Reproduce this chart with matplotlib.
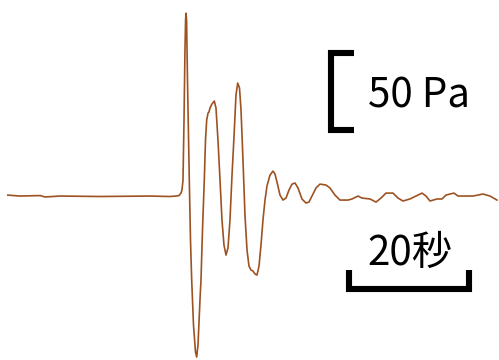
import matplotlib
matplotlib.use("Agg")
import matplotlib.pyplot as plt

# waveform: time (s) and pressure (Pa)
time_s = [-29.7, -27.7, -24.3, -23.5, -21.0, -14.3, -6.0, -2.7, -1.67, -1.17,
          -0.83, -0.67, -0.5, -0.33, -0.17, -0.07, 0.0, 0.1, 0.25, 0.55,
          0.75, 0.95, 1.25, 1.58, 1.78, 2.0, 2.33, 2.5, 2.75, 3.05,
          3.25, 3.45, 3.67, 3.83, 4.0, 4.33, 4.72, 5.0, 5.33, 5.67,
          6.0, 6.33, 6.67, 7.0, 7.33, 7.67, 8.0, 8.33, 8.62, 8.92,
          9.17, 9.5, 9.83, 10.17, 10.5, 10.83, 11.17, 11.5, 11.83, 12.17,
          12.5, 12.83, 13.17, 13.5, 14.0, 14.5, 14.83, 15.17, 15.67, 16.17,
          16.67, 17.17, 17.67, 18.17, 18.67, 19.33, 20.0, 20.5, 21.0, 21.67,
          22.33, 23.33, 24.0, 24.83, 25.67, 27.0, 27.67, 28.67, 29.33, 30.67,
          31.67, 32.5, 33.33, 34.5, 35.33, 36.17, 37.33, 38.33, 39.33, 40.0,
          40.67, 41.83, 42.67, 43.33, 44.0, 44.67, 45.33, 46.5, 47.83, 49.5,
          50.67, 51.83]
pressure_pa = [0.6, 0.0, 0.3, -0.6, 0.0, -0.3, 0.0, -0.3, 0.0, 0.3,
               1.9, 3.9, 10.3, 49.0, 94.2, 113.5, 118.0, 113.5, 74.8, 10.3,
               -28.4, -54.2, -83.2, -100.6, -103.9, -96.1, -67.1, -54.2, -21.9, 10.3,
               36.1, 49.0, 53.5, 54.2, 56.8, 59.4, 61.3, 56.8, 36.1, 10.3,
               -15.5, -31.6, -38.1, -33.5, -15.5, 13.5, 38.1, 65.2, 72.9, 69.7,
               55.5, 23.2, -12.3, -34.8, -45.2, -47.7, -48.4, -50.3, -51.0, -45.2,
               -31.6, -15.5, -2.6, 6.5, 13.5, 16.1, 14.2, 9.0, 0.6, -2.6,
               -1.3, 3.9, 7.7, 8.4, 5.2, -1.9, -4.5, -3.9, 0.0, 5.2,
               7.7, 7.1, 5.2, 0.6, -2.6, -2.6, -1.9, 0.0, -1.3, -1.9,
               -3.9, -1.3, 1.9, 1.9, -1.3, -3.2, -1.9, 0.0, 1.9, 0.0,
               -3.2, -1.9, -1.9, 0.6, 1.3, 1.9, 0.0, 0.0, 0.0, 1.3,
               0.0, -2.6]

pa_bar = 50     # vertical scale bar length
sec_bar = 20    # horizontal scale bar length
pa_label = "50 Pa"
sec_label = "20秒"

fig = plt.figure(figsize=(4.99, 3.6), dpi=100)
ax = fig.add_axes([0, 0, 1, 1])
ax.plot(time_s, pressure_pa, color="#9E5222", lw=1.2,
        solid_joinstyle="round")
ax.set_xlim(-31, 52.17)
ax.set_ylim(-105.8, 126.5)
ax.axis("off")

# vertical bracket
vx, vy0 = 24.25, 42.6
ax.plot([vx + 3.8, vx, vx, vx + 3.8], [vy0 + pa_bar, vy0 + pa_bar, vy0, vy0],
        color="black", lw=4.4, solid_joinstyle="miter", solid_capstyle="butt")
ax.text(30.3, 64.5, pa_label, fontsize=29, va="center", ha="left",
        family=["Noto Sans CJK JP", "DejaVu Sans"])

# horizontal bracket
hx0, hy = 27.17, -60.0
ax.plot([hx0, hx0, hx0 + sec_bar, hx0 + sec_bar], [hy + 12.5, hy, hy, hy + 12.5],
        color="black", lw=4.4, solid_joinstyle="miter", solid_capstyle="butt")
ax.text(30.3, -36.8, sec_label, fontsize=29, va="center", ha="left",
        family=["Noto Sans CJK JP", "DejaVu Sans"])

fig.savefig("out.png", dpi=100)
